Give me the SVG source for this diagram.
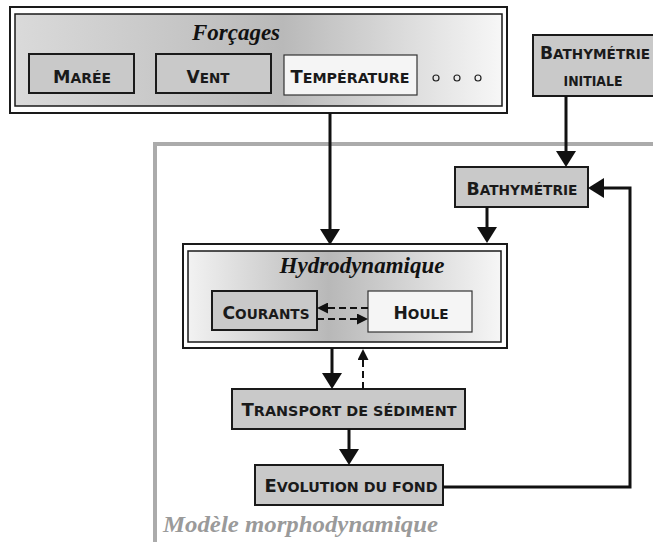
<svg xmlns="http://www.w3.org/2000/svg" width="653" height="542" viewBox="0 0 653 542">
  <style>
    .frame { fill: #ffffff; stroke: #1a1a1a; stroke-width: 2; }
    .box { fill: #c9c9c9; stroke: #1a1a1a; stroke-width: 2; }
    .lbox { fill: #f5f5f5; stroke: #333333; stroke-width: 1.2; }
    .lbl { font-family: "DejaVu Sans", "Liberation Sans", sans-serif; font-weight: bold; font-size: 13.5px; fill: #1a1a1a; text-anchor: middle; }
    .cap { font-size: 17px; }
    .title { font-family: "Liberation Serif", "DejaVu Serif", serif; font-weight: bold; font-style: italic; font-size: 23px; fill: #111111; text-anchor: middle; }
    .model { font-family: "Liberation Serif", "DejaVu Serif", serif; font-weight: bold; font-style: italic; font-size: 24px; fill: #9a9a9a; }
    .conn { fill: none; stroke: #111111; stroke-width: 3; }
    .dash { fill: none; stroke: #111111; stroke-width: 2; stroke-dasharray: 7 4; }
  </style>
  <defs>
    <linearGradient id="gForc" x1="0" y1="0" x2="1" y2="0">
      <stop offset="0" stop-color="#dadada"/>
      <stop offset="0.55" stop-color="#b9b9b9"/>
      <stop offset="1" stop-color="#f7f7f7"/>
    </linearGradient>
    <linearGradient id="gHydro" x1="0" y1="0" x2="1" y2="0">
      <stop offset="0" stop-color="#f2f2f2"/>
      <stop offset="0.45" stop-color="#b8b8b8"/>
      <stop offset="1" stop-color="#f6f6f6"/>
    </linearGradient>
    <marker id="ah" viewBox="0 0 16 20" refX="6" refY="10" markerWidth="16" markerHeight="20" markerUnits="userSpaceOnUse" orient="auto">
      <path d="M0,0 L16,10 L0,20 z" fill="#111111"/>
    </marker>
    <marker id="ahs" viewBox="0 0 11 11" refX="4" refY="5.5" markerWidth="11" markerHeight="11" markerUnits="userSpaceOnUse" orient="auto">
      <path d="M0,0 L11,5.5 L0,11 z" fill="#111111"/>
    </marker>
  </defs>

  <!-- morphodynamic model frame -->
  <g id="modele">
    <path d="M155,542 V144 H653" fill="none" stroke="#ababab" stroke-width="4"/>
    <text class="model" x="163" y="532" textLength="275" lengthAdjust="spacingAndGlyphs">Modèle morphodynamique</text>
  </g>

  <!-- forcing group -->
  <g id="forcages">
    <rect class="frame" x="10" y="7" width="497" height="106"/>
    <rect x="15" y="14" width="487" height="92" fill="url(#gForc)" stroke="#1a1a1a" stroke-width="1.5"/>
    <text class="title" x="236" y="40">Forçages</text>
  </g>
  <g id="maree">
    <rect class="box" x="29" y="54" width="105" height="39"/>
    <text class="lbl" x="82" y="83" textLength="58" lengthAdjust="spacingAndGlyphs"><tspan class="cap">M</tspan>ARÉE</text>
  </g>
  <g id="vent">
    <rect class="box" x="156" y="54" width="115" height="39"/>
    <text class="lbl" x="208" y="83" textLength="43" lengthAdjust="spacingAndGlyphs"><tspan class="cap">V</tspan>ENT</text>
  </g>
  <g id="temperature">
    <rect class="lbox" x="284" y="55" width="133" height="40"/>
    <text class="lbl" x="350" y="83" textLength="119" lengthAdjust="spacingAndGlyphs"><tspan class="cap">T</tspan>EMPÉRATURE</text>
  </g>
  <g id="etc" fill="none" stroke="#222222" stroke-width="1.2">
    <circle cx="436" cy="78" r="3"/>
    <circle cx="457" cy="78" r="3"/>
    <circle cx="478" cy="78" r="3"/>
  </g>

  <!-- initial bathymetry -->
  <g id="bathy-init">
    <rect class="box" x="533" y="35" width="130" height="61"/>
    <text class="lbl" x="595" y="59" textLength="110" lengthAdjust="spacingAndGlyphs"><tspan class="cap">B</tspan>ATHYMÉTRIE</text>
    <text class="lbl" x="593" y="86" textLength="59" lengthAdjust="spacingAndGlyphs">INITIALE</text>
  </g>

  <!-- bathymetry -->
  <g id="bathy">
    <rect class="box" x="455" y="167" width="133" height="40"/>
    <text class="lbl" x="522" y="195" textLength="111" lengthAdjust="spacingAndGlyphs"><tspan class="cap">B</tspan>ATHYMÉTRIE</text>
  </g>

  <!-- hydrodynamics -->
  <g id="hydro">
    <rect class="frame" x="183" y="244" width="324" height="104"/>
    <rect x="188" y="251" width="313" height="91" fill="url(#gHydro)" stroke="#1a1a1a" stroke-width="1.5"/>
    <text class="title" x="362" y="273">Hydrodynamique</text>
  </g>
  <g id="courants">
    <rect class="box" x="212" y="291" width="105" height="39"/>
    <text class="lbl" x="266" y="319" textLength="87" lengthAdjust="spacingAndGlyphs"><tspan class="cap">C</tspan>OURANTS</text>
  </g>
  <g id="houle">
    <rect class="lbox" x="368" y="291" width="104" height="41"/>
    <text class="lbl" x="421" y="319" textLength="55" lengthAdjust="spacingAndGlyphs"><tspan class="cap">H</tspan>OULE</text>
  </g>

  <!-- sediment transport -->
  <g id="transport">
    <rect class="box" x="232" y="389" width="233" height="40"/>
    <text class="lbl" x="349" y="416" textLength="215" lengthAdjust="spacingAndGlyphs"><tspan class="cap">T</tspan>RANSPORT DE SÉDIMENT</text>
  </g>

  <!-- bed evolution -->
  <g id="evolution">
    <rect class="box" x="255" y="465" width="188" height="40"/>
    <text class="lbl" x="351" y="492" textLength="173" lengthAdjust="spacingAndGlyphs"><tspan class="cap">E</tspan>VOLUTION DU FOND</text>
  </g>

  <!-- connectors -->
  <g id="connectors">
    <path class="conn" d="M330,113 V235" marker-end="url(#ah)"/>
    <path class="conn" d="M566,96 V157" marker-end="url(#ah)"/>
    <path class="conn" d="M487,207 V233" marker-end="url(#ah)"/>
    <path class="dash" d="M368,308 H324" marker-end="url(#ahs)"/>
    <path class="dash" d="M317,319 H361" marker-end="url(#ahs)"/>
    <path class="conn" d="M332,348 V379" marker-end="url(#ah)"/>
    <path class="dash" d="M363,389 V356" marker-end="url(#ahs)"/>
    <path class="conn" d="M349,429 V455" marker-end="url(#ah)"/>
    <path class="conn" d="M443,487 H630 V188 H598" marker-end="url(#ah)"/>
  </g>
</svg>
